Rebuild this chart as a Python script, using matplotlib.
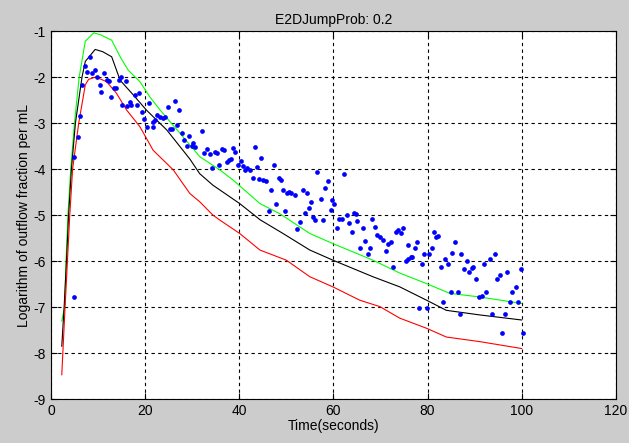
import matplotlib
matplotlib.use('Agg')
import matplotlib.pyplot as plt

plt.rcParams['font.family'] = ['Liberation Sans', 'DejaVu Sans']
plt.rcParams['axes.unicode_minus'] = False

# simulated curves (upper / mean / lower)
t_green = [2.3, 2.9, 3.2, 3.6, 4.2, 5.0, 6.0, 7.3, 9.1, 10.5, 12.9, 14.7, 16.4, 18.9, 21.0,
           23.2, 27.4, 31.6, 35.9, 38.7, 44.4, 48.6, 55.0, 59.9, 68.4, 74.1, 79.8, 84.7, 91.1, 100.0]
y_green = [-7.3, -7.0, -6.0, -5.0, -4.0, -3.0, -2.0, -1.22, -1.04, -1.08, -1.2, -1.56, -1.85, -2.1, -2.43,
           -2.72, -3.22, -3.73, -4.02, -4.24, -4.75, -4.97, -5.4, -5.62, -5.98, -6.26, -6.49, -6.7, -6.78, -6.92]

t_black = [2.3, 2.8, 3.3, 3.75, 4.35, 5.2, 6.6, 7.3, 9.4, 11.0, 12.9, 14.7, 17.5, 20.3, 24.6,
           29.5, 31.6, 34.4, 40.1, 44.4, 49.3, 55.0, 59.9, 68.4, 74.1, 79.8, 84.0, 91.1, 100.0]
y_black = [-7.85, -7.0, -6.0, -5.0, -4.0, -3.0, -2.0, -1.66, -1.4, -1.45, -1.56, -2.07, -2.39, -2.72, -3.15,
           -3.78, -4.1, -4.35, -4.75, -5.1, -5.4, -5.76, -5.98, -6.34, -6.56, -6.85, -7.07, -7.17, -7.28]

t_red = [2.3, 3.0, 3.5, 4.0, 4.6, 5.9, 7.3, 8.0, 9.5, 11.8, 13.9, 16.1, 18.9, 21.7, 26.0, 29.5,
         31.6, 34.4, 35.9, 40.1, 44.4, 50.0, 55.0, 59.9, 65.6, 69.9, 74.1, 79.8, 84.0, 91.1, 100.0]
y_red = [-8.47, -7.0, -6.0, -5.0, -4.0, -3.0, -2.17, -2.05, -2.0, -2.1, -2.35, -2.72, -3.08, -3.59, -4.02, -4.53,
         -4.71, -5.0, -5.11, -5.4, -5.76, -5.98, -6.34, -6.56, -6.85, -6.99, -7.24, -7.46, -7.65, -7.75, -7.9]

# measured outflow
t_obs = [4.8, 5.0, 5.65, 6.2, 6.7, 7.15, 7.6, 8.2, 8.7, 9.3, 9.8, 10.5, 10.7, 11.2, 11.9, 12.3, 12.7,
         13.4, 13.9, 14.4, 14.9, 15.2, 15.9, 16.1, 16.8, 17.1, 17.8, 18.2, 18.8, 19.3, 19.8, 20.3, 20.8,
         21.6, 21.7, 22.1, 22.6, 23.1, 23.7, 24.2, 24.8, 25.3, 25.8, 26.3, 26.8, 27.2, 27.8, 28.3, 28.8,
         29.3, 29.9, 30.2, 30.6,
         32.0, 32.5, 33.2, 33.8, 34.3, 34.8, 35.2, 35.7, 36.4, 36.7, 37.3, 37.9, 38.2, 38.7, 39.2, 39.8,
         40.3, 40.7, 41.2, 41.7, 42.3, 43.0, 43.4, 43.8, 44.2, 44.7, 45.1, 45.7, 46.3, 46.8, 47.4, 47.9,
         48.4, 48.8, 49.2, 49.7, 50.2, 50.6, 51.1, 51.8, 52.3, 53.0, 53.5, 54.0, 54.4, 54.8, 55.2, 55.7,
         56.2, 56.6, 57.3, 57.8, 58.3, 58.9, 59.4, 59.8, 60.1, 60.7, 61.2, 61.9, 62.2, 62.8, 63.4, 63.9,
         64.4, 64.9, 65.1, 65.6, 66.2, 66.7, 67.3, 67.8, 68.3, 68.8, 69.3, 69.9, 70.5, 71.2, 71.6, 72.2,
         72.7, 73.4,
         73.8, 74.3, 74.8, 75.4, 75.9, 76.4, 75.9, 76.8, 77.3, 77.8, 78.2, 78.8, 79.3, 79.8, 80.3, 80.9,
         81.4, 81.8, 82.3, 82.8, 83.3, 83.8, 84.3, 84.9, 85.3, 85.9, 86.4, 86.9, 87.2, 87.7, 88.3, 88.9,
         89.4, 89.7, 90.3, 91.0, 91.5, 92.0, 92.5, 93.2, 93.7, 94.3, 94.8, 95.4, 95.9, 96.4, 96.9, 97.5,
         98.0, 98.7, 99.3, 99.8, 100.3]
y_obs = [-6.77, -3.74, -3.31, -2.85, -2.18, -1.77, -1.88, -1.57, -1.91, -1.84, -2.0, -2.17, -2.33, -1.91, -2.06, -2.09, -2.43,
         -2.23, -2.23, -2.07, -1.99, -2.61, -2.09, -2.64, -2.54, -2.61, -2.39, -2.61, -2.34, -2.75, -2.91, -3.09, -2.56,
         -3.09, -2.97, -2.93, -2.83, -2.86, -2.9, -2.86, -2.66, -3.12, -3.12, -2.52, -3.04, -2.72, -3.21, -3.36, -3.5,
         -3.28, -3.5, -3.44, -3.51,
         -3.17, -3.65, -3.57, -3.67, -3.98, -3.62, -3.66, -3.91, -3.57, -3.59, -3.84, -3.8, -3.78, -3.55, -3.62, -3.91,
         -3.82, -3.93, -4.02, -3.98, -4.02, -4.2, -3.52, -3.96, -4.22, -3.77, -4.24, -4.27, -4.91, -4.46, -3.91, -4.77,
         -4.2, -4.24, -4.46, -4.91, -4.53, -4.49, -4.53, -4.57, -5.31, -5.14, -4.46, -4.95, -4.53, -4.84, -4.72, -5.04,
         -5.11, -4.06, -4.66, -5.1, -4.42, -4.25, -4.88, -4.67, -4.76, -5.29, -5.09, -5.09, -4.11, -5.0, -5.17, -5.36,
         -4.95, -4.98, -5.12, -5.72, -5.29, -5.56, -5.85, -5.72, -5.09, -5.25, -5.43, -5.47, -5.54, -5.78, -5.63, -5.58,
         -6.12, -5.36,
         -5.33, -5.4, -5.27, -6.0, -5.96, -5.92, -5.65, -5.92, -5.71, -5.58, -7.01, -6.07, -5.85, -7.01, -5.85, -5.72,
         -5.36, -5.47, -5.46, -6.12, -6.88, -5.96, -6.07, -6.67, -5.82, -5.58, -6.67, -7.16, -5.85, -6.18, -6.0, -6.23,
         -6.16, -6.12, -6.4, -6.77, -6.76, -6.07, -6.67, -5.96, -7.16, -5.85, -6.4, -6.3, -7.57, -7.16, -6.24, -6.88,
         -6.67, -6.57, -6.88, -6.17, -7.57]

fig = plt.figure(figsize=(6.29, 4.43), dpi=100, facecolor='#cccccc')
ax = fig.add_axes([0.081, 0.099, 0.898, 0.831])

ax.plot(t_green, y_green, color='#00ff00', lw=0.8)
ax.plot(t_black, y_black, color='black', lw=0.8)
ax.plot(t_red, y_red, color='#ff0000', lw=0.8)
ax.plot(t_obs, y_obs, 'o', color='#0000ff', ms=3.4, mec='none')

ax.set_xlim(0, 120)
ax.set_ylim(-9, -1)
ax.set_xticks(range(0, 121, 20))
ax.set_yticks(range(-9, 0))
ax.grid(True, color='black', linestyle=(0, (3, 3)), lw=0.8)
ax.tick_params(direction='in', top=True, right=True, labelsize=10, length=4)
for s in ax.spines.values():
    s.set_linewidth(0.8)

ax.set_title('E2DJumpProb: 0.2', fontsize=10, pad=5)
ax.set_xlabel('Time(seconds)', fontsize=10, labelpad=1)
ax.set_ylabel('Logarithm of outflow fraction per mL', fontsize=10, labelpad=2)

fig.savefig('out.png', dpi=100, facecolor=fig.get_facecolor())
